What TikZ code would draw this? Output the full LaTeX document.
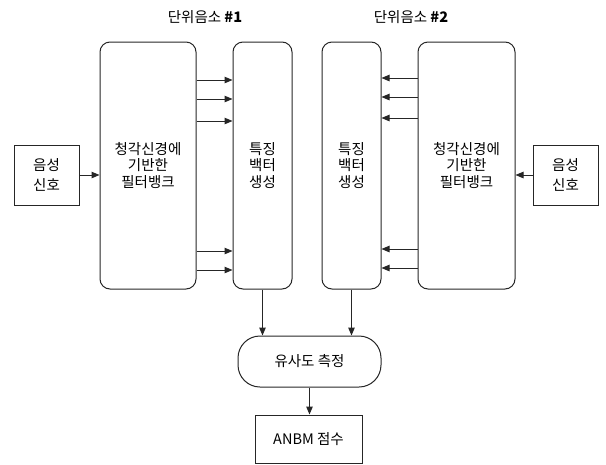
\documentclass[tikz,border=0pt]{standalone}
\usepackage{fontspec}
\setmainfont{Noto Sans CJK KR}
\usetikzlibrary{arrows.meta}
\tikzstyle{block} = [draw=black!85, line width=1pt, inner sep=0pt, align=center, font=\fontsize{14.5}{16.5}\selectfont]
\tikzstyle{bank} = [block, rounded corners=10pt, minimum height=247pt]
\tikzstyle{src} = [block, minimum width=65pt, minimum height=60pt, font=\fontsize{14.5}{20}\selectfont]
\tikzstyle{arr} = [line width=1pt, draw=black!85, -{Triangle[length=8pt,width=6.5pt]}]

\begin{document}
\begin{tikzpicture}[x=1pt, y=-1pt]%
			\useasboundingbox (0,0) rectangle (606,464);%
			\node [font=\fontsize{14.5}{16.5}\selectfont] (t1) at (205,17) {단위음소 \textbf{\#1}};%
			\node [font=\fontsize{14.5}{16.5}\selectfont] (t2) at (411,17) {단위음소 \textbf{\#2}};%
			\node [src] (in1) at (46.5,175) {음성\\신호};%
			\node [bank, minimum width=96pt] (fb1) at (148,165.5) {청각신경에\\기반한\\필터뱅크};%
			\node [bank, minimum width=59pt] (fv1) at (262.5,165.5) {특징\\백터\\생성};%
			\node [bank, minimum width=59pt] (fv2) at (351.5,165.5) {특징\\백터\\생성};%
			\node [bank, minimum width=97pt] (fb2) at (466.5,165.5) {청각신경에\\기반한\\필터뱅크};%
			\node [src] (in2) at (565.5,175) {음성\\신호};%
			\node [block, rounded corners=22pt, minimum width=143pt, minimum height=51pt] (sim) at (309.5,361.5) {유사도 측정};%
			\node [block, minimum width=107pt, minimum height=48pt] (score) at (308.5,439) {ANBM 점수};%
			\draw [arr] (in1.east) -- (in1.east -| fb1.west);%
			\draw [arr] (in2.west) -- (in2.west -| fb2.east);%
			\foreach \y in {80,99,121,251,270}
				\draw [arr] (fb1.east |- 0,\y) -- (fv1.west |- 0,\y);%
			\foreach \y in {78,97,118,249,268}
				\draw [arr] (fb2.west |- 0,\y) -- (fv2.east |- 0,\y);%
			\draw [arr] (fv1.south) -- (fv1.south |- sim.north);%
			\draw [arr] (fv2.south) -- (fv2.south |- sim.north);%
			\draw [arr] (sim.south) -- (sim.south |- score.north);%
		\end{tikzpicture}
\end{document}
